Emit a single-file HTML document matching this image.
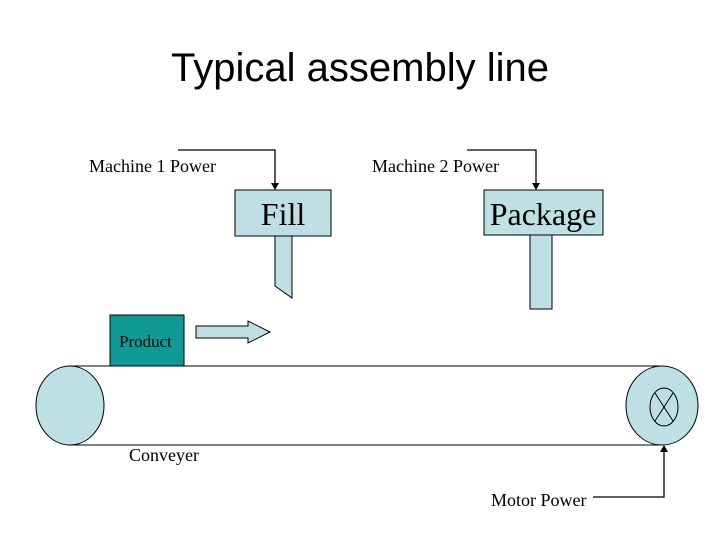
<!DOCTYPE html>
<html><head><style>
body{margin:0;background:#fff;}
svg{display:block;}
</style></head><body>
<svg width="720" height="540" xmlns="http://www.w3.org/2000/svg">
<defs><marker id="a" markerWidth="8" markerHeight="8" refX="6" refY="4" orient="auto" markerUnits="userSpaceOnUse"><path d="M0,0 L7,4 L0,8 z" fill="#000"/></marker></defs>
<text x="360" y="81" font-family="Liberation Sans, sans-serif" font-size="40" text-anchor="middle">Typical assembly line</text>
<g stroke="#000" stroke-width="1.3" fill="none">
<polyline points="178,150 275,150 275,189" marker-end="url(#a)"/>
<polyline points="467,150 536,150 536,189" marker-end="url(#a)"/>
<polyline points="593,497 664,497 664,446" marker-end="url(#a)"/>
</g>
<g stroke="#000" stroke-width="1" fill="#bde0e4">
<polygon points="275,236 292,236 292,298 275,286"/>
<rect x="235" y="190" width="96" height="46"/>
<rect x="530" y="235" width="22" height="74"/>
<rect x="484" y="190" width="119" height="45"/>
<polygon points="196,326 248,326 248,321 270,332 248,343 248,338 196,338"/>
</g>
<rect x="110" y="315" width="74" height="51" fill="#0f9a96" stroke="#000" stroke-width="1"/>
<line x1="68" y1="366" x2="662" y2="366" stroke="#000"/>
<line x1="68" y1="445" x2="662" y2="445" stroke="#000"/>
<ellipse cx="70" cy="405.5" rx="34" ry="39.5" fill="#bde0e4" stroke="#000"/>
<ellipse cx="662" cy="405.5" rx="36" ry="39.5" fill="#bde0e4" stroke="#000"/>
<ellipse cx="664" cy="407" rx="14" ry="19" fill="none" stroke="#000"/>
<line x1="655" y1="393" x2="673" y2="421" stroke="#000"/>
<line x1="673" y1="393" x2="655" y2="421" stroke="#000"/>
<g font-family="Liberation Serif, serif" font-size="18">
<text x="89" y="172">Machine 1 Power</text>
<text x="372" y="172">Machine 2 Power</text>
<text x="119" y="347" font-size="17">Product</text>
<text x="129" y="461">Conveyer</text>
<text x="491" y="506">Motor Power</text>
</g>
<g font-family="Liberation Serif, serif" font-size="32" text-anchor="middle">
<text x="283" y="225">Fill</text>
<text x="543" y="225">Package</text>
</g>
</svg>
</body></html>
